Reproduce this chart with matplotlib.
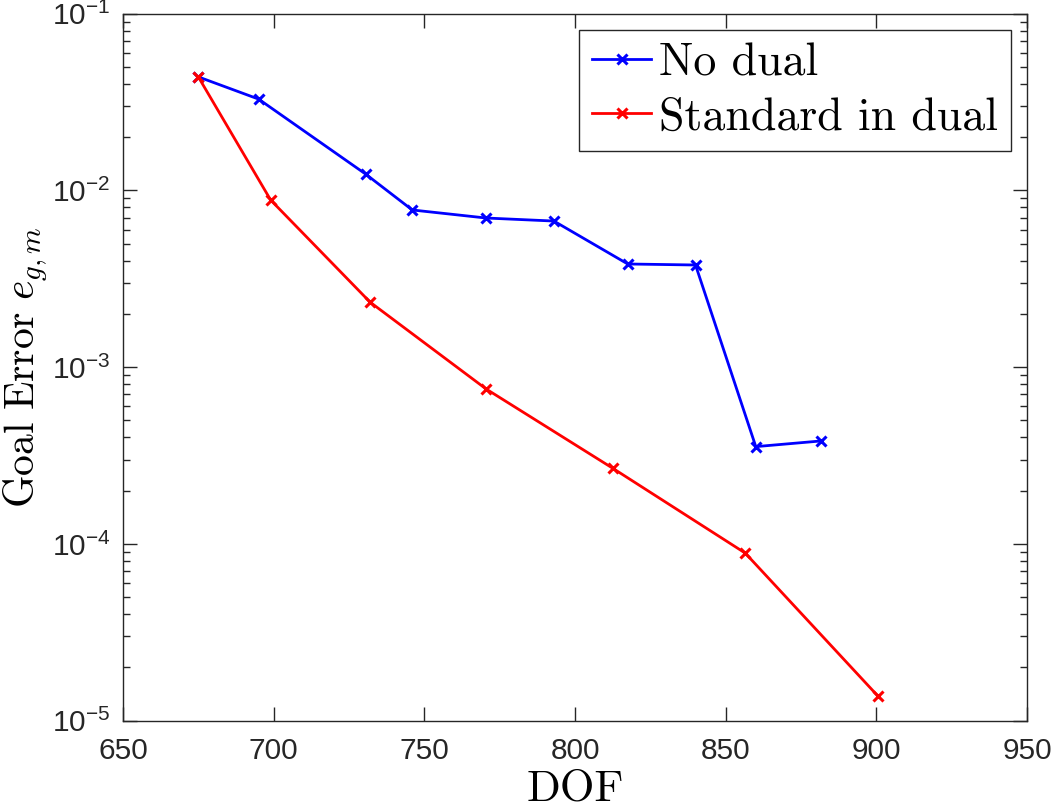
import math
import matplotlib
matplotlib.use("Agg")
import matplotlib.pyplot as plt
from matplotlib.ticker import FixedLocator, LogLocator, NullFormatter, FuncFormatter

plt.rcParams['mathtext.fontset'] = 'custom'
plt.rcParams['mathtext.rm'] = 'Liberation Sans'
plt.rcParams['mathtext.it'] = 'Liberation Sans:italic'
plt.rcParams['mathtext.sf'] = 'Liberation Sans'
plt.rcParams['axes.unicode_minus'] = False

dof_nodual = [675, 695, 730.5, 746, 770.5, 793, 817.5, 840, 860, 881.5]
err_nodual = [0.0438, 0.0328, 0.01236, 0.00774, 0.00697, 0.00670, 0.00383, 0.00378, 0.000355, 0.000382]
dof_std = [675, 699, 732, 770.5, 812.5, 856.5, 900.5]
err_std = [0.0438, 0.00881, 0.00233, 0.000752, 0.000268, 8.87e-5, 1.38e-5]
labels = ["No dual", "Standard in dual"]
xticks = [650, 700, 750, 800, 850, 900, 950]
yticks = [1e-5, 1e-4, 1e-3, 1e-2, 1e-1]

fig = plt.figure(figsize=(10.53, 8.09), dpi=100)
ax = fig.add_axes([123/1053, 1-720.7/809, (1027-123)/1053, (720.7-13.5)/809])

ax.plot(dof_nodual, err_nodual, color=(0, 0, 1), lw=2.0, marker='x', ms=7, mew=2.2, label=labels[0])
ax.plot(dof_std, err_std, color=(1, 0, 0), lw=2.0, marker='x', ms=7, mew=2.2, label=labels[1])

ax.set_yscale('log')
ax.set_xlim(650, 950)
ax.set_ylim(1e-5, 1e-1)
ax.xaxis.set_major_locator(FixedLocator(xticks))
ax.yaxis.set_major_locator(FixedLocator(yticks))
ax.yaxis.set_minor_locator(LogLocator(base=10, subs=range(2, 10)))
ax.yaxis.set_minor_formatter(NullFormatter())
ax.yaxis.set_major_formatter(FuncFormatter(lambda v, p: r'$10^{%d}$' % round(math.log10(v))))

ax.tick_params(which='both', direction='in', top=True, right=True, color='#262626', width=1.0)
ax.tick_params(which='major', length=10, labelsize=21.5, labelcolor='#262626')
ax.tick_params(axis='x', which='major', pad=12)
ax.tick_params(axis='y', which='major', pad=9)
ax.tick_params(which='minor', length=5)
for lab in ax.get_xticklabels():
    lab.set_fontfamily('Liberation Sans')
for s in ax.spines.values():
    s.set_color('#262626')
    s.set_linewidth(1.0)

ax.set_xlabel('DOF', fontfamily='cmr10', fontsize=32, labelpad=3)
ax.set_ylabel(r'$\mathrm{Goal\ Error}\ e_{g,m}$', math_fontfamily='cm', fontsize=30)
ax.yaxis.set_label_coords(-0.082, 0.5)

leg = ax.legend(loc='upper right', prop={'family': 'cmr10', 'size': 33}, fancybox=False,
                edgecolor='#262626', framealpha=1, handlelength=1.3, handletextpad=0.17,
                borderaxespad=0.35, labelspacing=0.28, borderpad=0.28)
leg.get_frame().set_linewidth(1.0)

fig.savefig('out.png', dpi=100)
